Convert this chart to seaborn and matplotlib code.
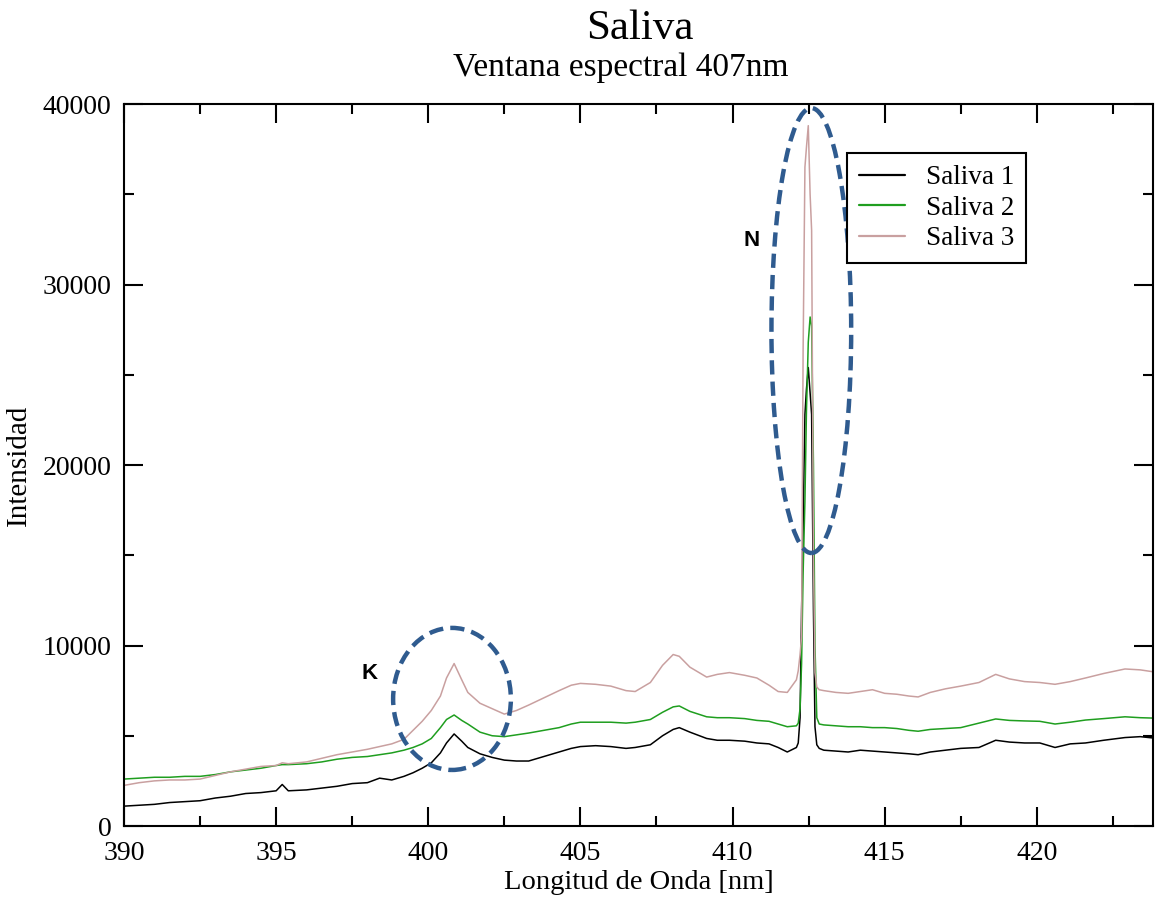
import numpy as np
import pandas as pd
import matplotlib
matplotlib.use("Agg")
import matplotlib.pyplot as plt
from matplotlib.patches import Ellipse
from matplotlib.lines import Line2D
import seaborn as sns

# ---------------- data ----------------
wavelength = [
    390, 390.5, 391, 391.5, 392, 392.5, 393, 393.5, 394, 394.5,
    395, 395.2, 395.4, 396, 396.5, 397, 397.5, 398, 398.4, 398.8,
    399.2, 399.5, 399.8, 400.1, 400.4, 400.6, 400.85, 401.1, 401.3, 401.7,
    402.1, 402.5, 402.9, 403.3, 403.8, 404.3, 404.7, 405.0, 405.5, 406.0,
    406.5, 406.8, 407.3, 407.7, 408.05, 408.25, 408.6, 409.15, 409.5, 409.9,
    410.4, 410.8, 411.2, 411.5, 411.8, 412.1, 412.16, 412.22, 412.27, 412.32,
    412.38, 412.43, 412.49, 412.55, 412.60, 412.66, 412.71, 412.77, 412.85, 413.0,
    413.4, 413.8, 414.2, 414.6, 415.0, 415.4, 415.8, 416.1, 416.5, 417.0,
    417.5, 418.1, 418.65, 419.1, 419.6, 420.1, 420.6, 421.1, 421.6, 422.2,
    422.9, 423.4, 423.8,
]

saliva_1 = [
    1100, 1150, 1200, 1300, 1350, 1400, 1550, 1650, 1800, 1850,
    1950, 2300, 1950, 2000, 2100, 2200, 2350, 2400, 2650, 2550,
    2750, 2950, 3200, 3500, 4050, 4600, 5100, 4700, 4350, 4000,
    3800, 3650, 3600, 3600, 3850, 4100, 4300, 4400, 4450, 4400,
    4300, 4350, 4500, 5000, 5350, 5450, 5200, 4850, 4750, 4750,
    4700, 4600, 4550, 4350, 4100, 4350, 4600, 6000, 12000, 16500,
    22800, 24200, 25400, 24000, 22800, 12000, 5500, 4500, 4300, 4200,
    4150, 4100, 4200, 4150, 4100, 4050, 4000, 3950, 4100, 4200,
    4300, 4350, 4750, 4650, 4600, 4600, 4350, 4550, 4600, 4750,
    4900, 4950, 4880,
]

saliva_2 = [
    2600, 2650, 2700, 2700, 2750, 2750, 2850, 3000, 3100, 3200,
    3350, 3400, 3400, 3450, 3550, 3700, 3800, 3850, 3950, 4050,
    4200, 4350, 4550, 4850, 5450, 5900, 6150, 5850, 5650, 5200,
    5000, 4950, 5050, 5150, 5300, 5450, 5650, 5750, 5750, 5750,
    5700, 5750, 5900, 6300, 6600, 6650, 6350, 6050, 6000, 6000,
    5950, 5850, 5800, 5650, 5500, 5550, 5700, 6500, 9000, 14000,
    18000, 23000, 26800, 28200, 27700, 20000, 10000, 6000, 5650, 5600,
    5550, 5500, 5500, 5450, 5450, 5400, 5300, 5250, 5350, 5400,
    5450, 5700, 5930, 5850, 5820, 5800, 5650, 5750, 5870, 5950,
    6050, 6000, 5980,
]

saliva_3 = [
    2250, 2400, 2500, 2550, 2550, 2600, 2800, 3000, 3150, 3300,
    3350, 3500, 3450, 3550, 3750, 3950, 4100, 4250, 4400, 4550,
    4800, 5300, 5800, 6400, 7200, 8200, 9000, 8100, 7400, 6800,
    6500, 6200, 6400, 6700, 7100, 7500, 7800, 7900, 7850, 7750,
    7500, 7450, 7950, 8900, 9500, 9400, 8800, 8250, 8400, 8500,
    8350, 8200, 7800, 7450, 7400, 8100, 8600, 9500, 10500, 26300,
    36500, 37600, 38800, 35000, 33000, 15000, 8500, 7700, 7550, 7500,
    7400, 7350, 7450, 7550, 7350, 7300, 7200, 7150, 7400, 7600,
    7750, 7950, 8400, 8150, 8000, 7950, 7850, 8000, 8200, 8450,
    8700, 8650, 8550,
]

series_names = ["Saliva 1", "Saliva 2", "Saliva 3"]
series_colors = ["#000000", "#1f9e1f", "#c9a0a0"]

title_text = "Saliva"
subtitle_text = "Ventana espectral 407nm"
x_label = "Longitud de Onda [nm]"
y_label = "Intensidad"

# K region ellipse and N region ellipse (center x, center y, width, height)
k_ellipse = (400.78, 7040, 3.87, 7870)
n_ellipse = (412.59, 27450, 2.62, 24650)

# ---------------- build table ----------------
assert len(wavelength) == len(saliva_1) == len(saliva_2) == len(saliva_3)
frames = []
for name, vals in zip(series_names, [saliva_1, saliva_2, saliva_3]):
    frames.append(pd.DataFrame({"wl": wavelength, "I": vals, "serie": name}))
df = pd.concat(frames, ignore_index=True)

# ---------------- style ----------------
sns.set_style("ticks")
plt.rcParams["font.family"] = ["Liberation Serif", "DejaVu Serif"]
plt.rcParams["axes.linewidth"] = 1.5
plt.rcParams["text.color"] = "black"
plt.rcParams["axes.labelcolor"] = "black"
plt.rcParams["xtick.color"] = "black"
plt.rcParams["ytick.color"] = "black"

fig = plt.figure(figsize=(11.56, 8.97), dpi=100)
ax = fig.add_axes([124 / 1156, 1 - 826 / 897, (1153 - 124) / 1156, (826 - 104) / 897])

sns.lineplot(data=df, x="wl", y="I", hue="serie", palette=series_colors,
             estimator=None, sort=True, linewidth=1.1, ax=ax, legend=False)

ax.set_xlim(390, 423.82)
ax.set_ylim(0, 40000)
ax.set_xticks(np.arange(390, 421, 5))
ax.set_xticks(np.arange(390, 424, 2.5), minor=True)
ax.set_yticks(np.arange(0, 40001, 10000))
ax.set_yticks(np.arange(0, 40001, 5000), minor=True)
ax.tick_params(which="both", direction="in", top=True, right=True,
               width=1.5, colors="black", labelsize=20)
ax.tick_params(which="major", length=14)
ax.tick_params(which="minor", length=7)
ax.tick_params(axis="x", pad=11)
ax.tick_params(axis="y", pad=9)
for s in ax.spines.values():
    s.set_color("black")
    s.set_linewidth(1.5)

ax.set_xlabel(x_label, fontsize=20.5, labelpad=3, color="black")
ax.set_ylabel(y_label, fontsize=21, labelpad=8, color="black")

# legend
handles = [Line2D([], [], color=c, lw=1.6) for c in series_colors]
leg = ax.legend(handles, series_names, loc="upper left",
                bbox_to_anchor=(0.7026, 0.932), borderaxespad=0,
                fontsize=19.5, frameon=True, fancybox=False, framealpha=1,
                handlelength=1.7, handletextpad=0.75, labelspacing=0.2,
                borderpad=0.45)
leg.get_frame().set_edgecolor("black")
leg.get_frame().set_linewidth(1.5)
for t in leg.get_texts():
    t.set_color("black")

# ellipses
ell_color = "#2f5b8f"
for cx, cy, w, h in [k_ellipse, n_ellipse]:
    e = Ellipse((cx, cy), w, h, facecolor="none", edgecolor=ell_color,
                linewidth=3.2, linestyle=(0, (3.2, 1.6)), zorder=5)
    ax.add_patch(e)

ax.text(398.08, 8476, "K", fontsize=16, fontweight="bold", color="black",
        family=["Liberation Sans", "DejaVu Sans"], ha="center", va="center")
ax.text(410.64, 32410, "N", fontsize=16, fontweight="bold", color="black",
        family=["Liberation Sans", "DejaVu Sans"], ha="center", va="center")

# titles
fig.text(640 / 1156, 1 - 29 / 897, title_text, fontsize=31, ha="center",
         va="center", color="black")
fig.text(621 / 1156, 1 - 68 / 897, subtitle_text, fontsize=24, ha="center",
         va="center", color="black")

fig.savefig("out.png", dpi=100)
